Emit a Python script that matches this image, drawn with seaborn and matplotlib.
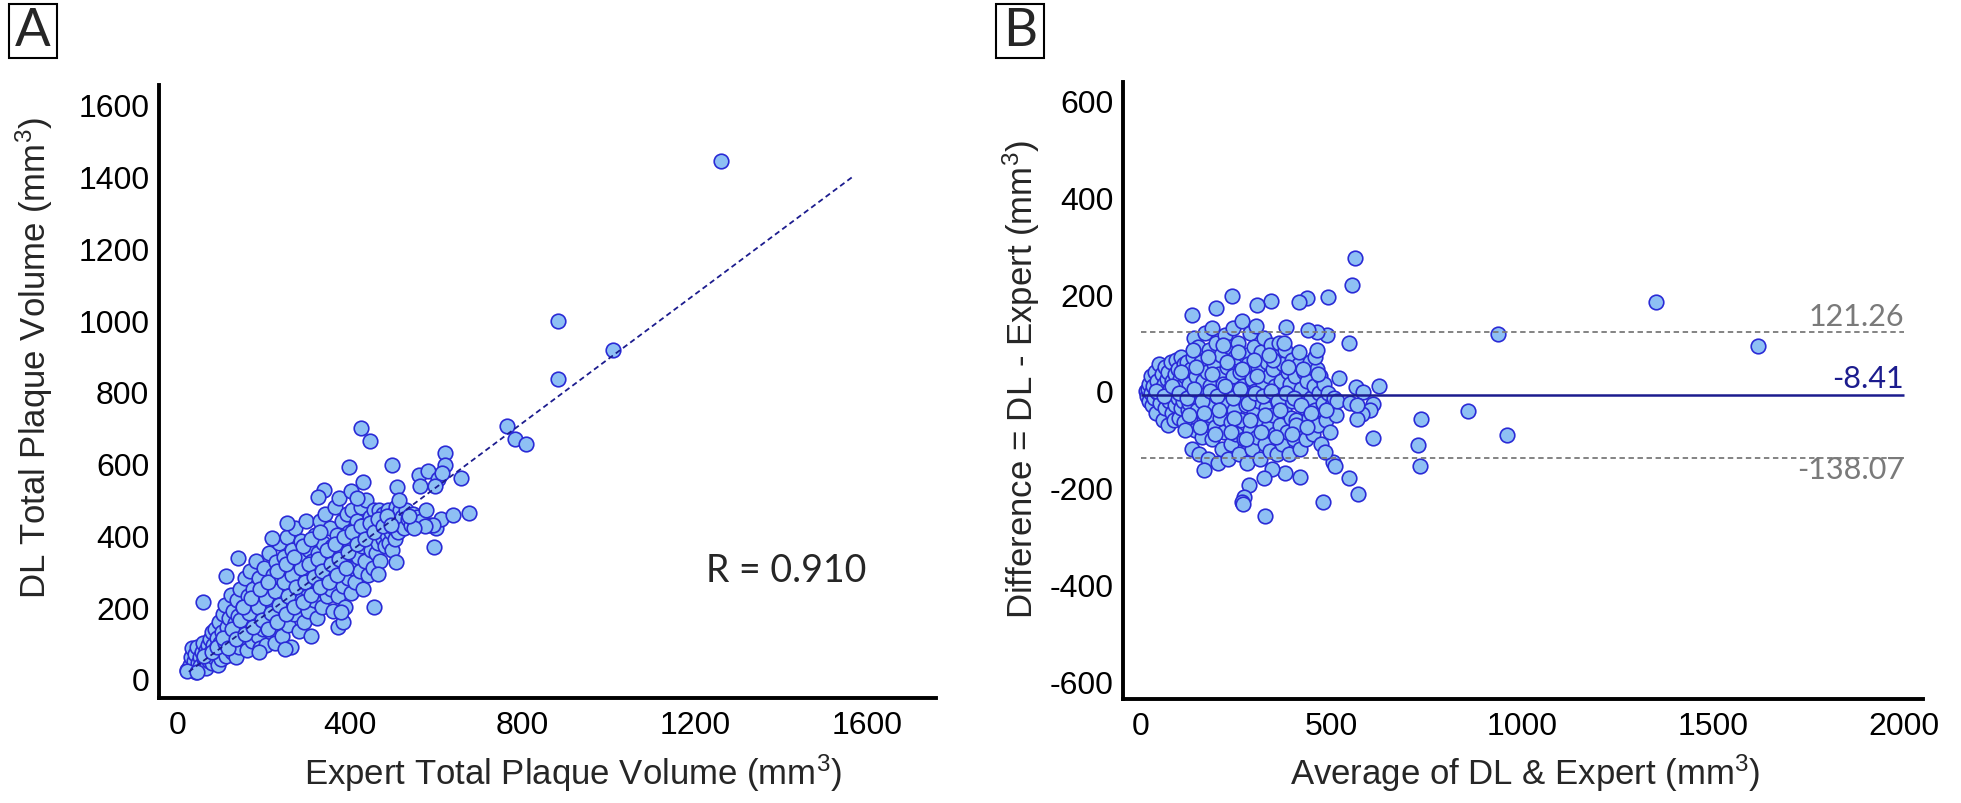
import matplotlib
matplotlib.use("Agg")
import matplotlib.pyplot as plt
import seaborn as sns
from matplotlib.patches import Rectangle

# ---- Panel A: DL vs expert total plaque volume (mm3) ----
expert_vol = [
    22, 28, 30, 33, 35, 38, 40, 42, 45, 47,
    50, 52, 55, 57, 60, 62, 64, 66, 68, 70,
    72, 74, 76, 78, 80, 82, 84, 86, 88, 90,
    92, 94, 96, 98, 100, 102, 104, 106, 108, 110,
    112, 114, 116, 118, 120, 122, 125, 127, 130, 132,
    134, 136, 138, 140, 142, 145, 147, 150, 152, 155,
    157, 160, 162, 165, 167, 170, 172, 175, 178, 180,
    183, 185, 188, 190, 192, 195, 197, 200, 202, 205,
    207, 210, 212, 215, 217, 220, 222, 225, 227, 230,
    232, 235, 237, 240, 242, 245, 247, 250, 252, 255,
    257, 260, 262, 265, 267, 270, 272, 275, 277, 280,
    282, 285, 287, 290, 292, 295, 297, 300, 302, 305,
    307, 310, 312, 315, 317, 320, 322, 325, 327, 330,
    332, 335, 337, 340, 342, 345, 347, 350, 352, 355,
    357, 360, 362, 365, 367, 370, 372, 375, 377, 380,
    382, 385, 387, 390, 392, 395, 397, 400, 402, 405,
    407, 410, 412, 415, 417, 420, 422, 425, 427, 430,
    432, 435, 437, 440, 442, 445, 447, 450, 452, 455,
    457, 460, 462, 465, 467, 470, 472, 475, 477, 480,
    482, 485, 487, 490, 492, 495, 497, 500, 502, 505,
    507, 510, 512, 515, 518, 520, 525, 530, 535, 540,
    545, 550, 555, 565, 575, 585, 600, 610,
    140, 160, 180, 200, 220, 240, 260, 280, 300, 320,
    340, 360, 380, 400, 420, 440, 460, 480, 350, 310,
    60, 80, 100, 120, 90, 110, 130, 150, 170, 190,
    105, 115, 125, 135, 145, 155, 165, 175, 185, 195,
    205, 215, 225, 235, 245, 255, 265, 275, 285, 295,
    305, 315, 325, 335, 345, 355, 365, 375, 385, 395,
    405, 415, 425, 435, 445, 455, 465, 475, 485, 495,
    210, 230, 250, 270, 290, 310, 330, 350, 370, 390,
    150, 170, 190, 210, 230, 250, 270, 290, 310, 330,
    1260, 882, 1009, 882, 763, 783, 807, 425, 446, 620,
    621, 498, 396, 560, 581, 603, 614, 657, 561, 597,
    429, 508, 514, 339, 324, 375, 402, 416, 638, 676,
    595, 591, 574, 548, 537, 506, 455, 252, 218, 140,
    111, 59, 372, 382, 379, 464, 248, 189, 20, 43,
]
dl_vol = [
    25, 40, 60, 85, 30, 50, 70, 20, 90, 45,
    60, 35, 75, 100, 55, 40, 80, 30, 65, 95,
    50, 110, 75, 130, 45, 95, 60, 140, 85, 115,
    40, 70, 160, 100, 55, 130, 180, 80, 110, 205,
    65, 145, 95, 170, 120, 235, 75, 190, 100, 155,
    60, 220, 130, 175, 90, 250, 140, 110, 200, 280,
    160, 80, 230, 135, 300, 190, 105, 250, 160, 330,
    215, 120, 280, 85, 175, 245, 140, 310, 200, 95,
    265, 170, 350, 230, 130, 290, 195, 100, 325, 250,
    160, 380, 215, 280, 120, 340, 190, 260, 395, 150,
    300, 220, 90, 360, 270, 180, 420, 240, 320, 135,
    280, 385, 210, 340, 160, 300, 440, 250, 190, 360,
    275, 120, 330, 220, 400, 290, 170, 350, 250, 440,
    310, 200, 380, 270, 460, 230, 340, 300, 420, 250,
    370, 190, 330, 480, 280, 400, 230, 350, 300, 440,
    260, 380, 200, 330, 460, 280, 410, 350, 240, 470,
    310, 390, 270, 440, 340, 410, 300, 480, 370, 250,
    430, 330, 500, 390, 290, 450, 360, 420, 310, 470,
    400, 350, 440, 380, 470, 330, 420, 390, 460, 370,
    430, 400, 470, 380, 440, 410, 360, 460, 420, 390,
    480, 440, 410, 470, 430, 450, 420, 470, 445, 430,
    460, 425, 450, 440, 470, 430, 420, 445,
    140, 150, 170, 185, 210, 225, 245, 265, 280, 300,
    320, 340, 355, 375, 390, 410, 430, 445, 330, 290,
    65, 75, 95, 110, 90, 100, 120, 145, 160, 180,
    115, 85, 140, 110, 165, 125, 185, 145, 200, 165,
    225, 185, 245, 205, 270, 230, 290, 255, 310, 270,
    320, 285, 335, 300, 360, 320, 375, 335, 395, 355,
    410, 375, 425, 390, 435, 410, 445, 425, 455, 430,
    140, 160, 180, 200, 215, 235, 255, 270, 290, 310,
    200, 225, 250, 270, 300, 320, 340, 370, 390, 410,
    1443, 998, 917, 836, 704, 670, 654, 699, 664, 630,
    597, 596, 590, 568, 580, 557, 575, 559, 537, 537,
    548, 536, 500, 527, 507, 504, 525, 503, 457, 462,
    368, 430, 427, 420, 453, 327, 200, 436, 394, 336,
    286, 215, 144, 158, 186, 292, 84, 74, 23, 19,
]
fit_x = [25, 1565]
fit_y = [20, 1398]
r_text = "R = 0.910"

# ---- Panel B: Bland-Altman ----
ba_mean = [
    12, 15, 18, 20, 22, 25, 27, 30, 32, 35,
    37, 40, 42, 45, 47, 50, 52, 55, 57, 60,
    62, 64, 66, 68, 70, 72, 74, 76, 78, 80,
    82, 84, 86, 88, 90, 92, 94, 96, 98, 100,
    102, 104, 106, 108, 110, 112, 114, 116, 118, 120,
    122, 125, 127, 130, 133, 136, 138, 140, 142, 145,
    147, 150, 152, 155, 157, 160, 162, 165, 167, 170,
    172, 175, 177, 180, 182, 185, 187, 190, 192, 195,
    197, 200, 202, 205, 207, 210, 212, 215, 217, 220,
    222, 225, 227, 230, 232, 235, 237, 240, 242, 245,
    247, 250, 252, 255, 257, 260, 262, 265, 267, 270,
    272, 275, 277, 280, 282, 285, 287, 290, 292, 295,
    297, 300, 302, 305, 307, 310, 312, 315, 317, 320,
    322, 325, 327, 330, 332, 335, 337, 340, 342, 345,
    347, 350, 352, 355, 357, 360, 362, 365, 367, 370,
    372, 375, 377, 380, 382, 385, 387, 390, 392, 395,
    397, 400, 403, 406, 410, 413, 416, 420, 423, 426,
    430, 433, 436, 440, 443, 446, 450, 453, 456, 460,
    463, 466, 470, 473, 476, 480, 485, 490, 495, 500,
    505, 510, 515,
    40, 60, 80, 100, 120, 140, 160, 180, 200, 220,
    240, 260, 280, 300, 320, 340, 360, 380, 400, 420,
    105, 125, 145, 165, 185, 205, 225, 245, 265, 285,
    305, 325, 345, 365, 385, 405, 425, 445, 465, 485,
    115, 135, 155, 175, 195, 215, 235, 255, 275, 295,
    315, 335, 355, 375, 395, 415, 435, 455,
    561, 554, 491, 434, 415, 341, 303, 238, 197, 134,
    546, 487, 461, 439, 379, 625, 520, 858, 733, 727,
    731, 607, 546, 568, 504, 508, 482, 478, 417, 377,
    343, 323, 324, 284, 271, 265, 268, 165, 609, 599,
    578, 564, 582, 565, 547, 565, 461, 1350, 1618, 937,
    959,
]
ba_diff = [
    0, -10, 5, -20, 15, -5, 30, -30, 10, -15,
    40, -45, 20, -5, 55, -25, 5, 35, -60, 15,
    -35, 50, -10, 25, -70, 40, -20, 5, 60, -45,
    20, -5, -60, 35, -30, 65, 0, -15, 45, -55,
    25, -35, 70, 10, -20, 55, -65, 30, -5, 60,
    -40, 15, -25, 45, -120, 70, -10, 110, -80, 30,
    -40, 90, -130, 0, 60, -95, 20, -60, 120, -20,
    40, -140, 85, -50, 10, -100, 130, -25, 55, -75,
    100, -10, -150, 35, -55, 75, -120, 15, -85, 115,
    -30, 50, -140, 5, 90, -65, -110, 30, 130, -40,
    70, -90, -10, 100, -130, 40, -60, 145, 10, -100,
    75, -30, -150, 55, -5, 120, -80, 25, -120, 90,
    -45, 0, 135, -95, 50, -20, -140, 80, -60, 15,
    110, -110, -35, 60, -75, 30, -125, 95, -5, -50,
    45, -90, 10, 70, -130, -25, 100, -70, 20, -110,
    55, -40, 85, -5, -85, 40, -130, 15, -55, 65,
    -20, -100, 30, -60, -10, 55, -120, 5, -80, 40,
    -35, -100, 20, -55, 60, -15, -90, 10, -40, 45,
    -70, -5, 30, -110, -25, 15, -60, -5, -85, -30,
    -15, -50, -20,
    0, -10, 10, -5, -15, 5, -20, 0, -10, 10,
    -15, 5, -25, -5, -10, 0, -20, -5, -15, -30,
    40, -50, 50, -45, 35, -40, 60, -55, 45, -60,
    30, -50, 65, -40, 50, -70, 45, -45, 35, -40,
    -80, 85, -75, 70, -90, 95, -85, 80, -100, 65,
    -85, 75, -95, 100, -90, 80, -75, 70,
    275, 219, 195, 192, 183, 187, 178, 197, 172, 158,
    99, 116, 122, 126, 132, 11, 27, -42, -59, -111,
    -155, -98, -181, -213, -146, -155, -127, -229, -177, -169,
    -161, -180, -258, -194, -219, -229, -234, -163, -27, -40,
    -47, 9, -3, -59, -24, -30, 85, 184, 93, 118,
    -92,
]
bias = -8.41
loa_upper = 121.26
loa_lower = -138.07
ba_x_range = [0, 2000]

face = "#8ec0f4"
edge = "#2a2ad6"
navy = "#1c1c8e"
grey = "#7a7a7a"

sns.set_theme(style="white")
plt.rcParams["font.family"] = ["Liberation Sans", "DejaVu Sans"]
plt.rcParams["axes.unicode_minus"] = False
plt.rcParams["mathtext.fontset"] = "custom"
plt.rcParams["mathtext.rm"] = "Liberation Sans"
plt.rcParams["mathtext.it"] = "Liberation Sans"

fig = plt.figure(figsize=(19.61, 8.04), dpi=100)
ax1 = fig.add_axes([0.0811, 0.1306, 0.3962, 0.7624])
ax2 = fig.add_axes([0.5727, 0.1294, 0.4080, 0.7674])

# panel A
sns.scatterplot(x=expert_vol, y=dl_vol, ax=ax1, s=110, color=face,
                edgecolor=edge, linewidth=1.2, zorder=2)
ax1.plot(fit_x, fit_y, ls=(0, (3, 2)), color=navy, lw=1.3, zorder=3)
ax1.set_xlim(-44, 1760)
ax1.set_ylim(-53, 1655)
ax1.set_xticks([0, 400, 800, 1200, 1600])
ax1.set_xticks(range(0, 1601, 200), minor=True)
ax1.set_yticks(range(0, 1601, 200))
ax1.text(1225, 305, r_text, fontsize=27, family=["Lato", "DejaVu Sans"],
         ha="left", va="center")
ax1.set_xlabel("Expert Total Plaque Volume (mm$^3$)", fontsize=25)
ax1.set_ylabel("DL Total Plaque Volume (mm$^3$)", fontsize=25)
ax1.xaxis.set_label_coords(0.533, -0.121)
ax1.xaxis.label.set_va("center")
ax1.yaxis.set_label_coords(-0.16, 0.556)
ax1.yaxis.label.set_va("center")

# panel B
sns.scatterplot(x=ba_mean, y=ba_diff, ax=ax2, s=110, color=face,
                edgecolor=edge, linewidth=1.2, zorder=2)
ax2.hlines([loa_upper, loa_lower], *ba_x_range, colors=grey,
           linestyles=[(0, (3, 2))], lw=1.3, zorder=3)
ax2.hlines(bias, *ba_x_range, colors=navy, lw=1.8, zorder=3)
lab_font = ["Lato", "DejaVu Sans"]
ax2.annotate(f"{loa_upper:.2f}", (ba_x_range[1], loa_upper), xytext=(0, 2),
             textcoords="offset points", ha="right", va="bottom",
             color=grey, fontsize=22, family=lab_font)
ax2.annotate(f"{bias:.2f}", (ba_x_range[1], bias), xytext=(0, 2),
             textcoords="offset points", ha="right", va="bottom",
             color=navy, fontsize=22, family=lab_font)
ax2.annotate(f"{loa_lower:.2f}", (ba_x_range[1], loa_lower), xytext=(0, 2),
             textcoords="offset points", ha="right", va="top",
             color=grey, fontsize=22, family=lab_font)
ax2.set_xlim(-47, 2050)
ax2.set_ylim(-637, 639)
ax2.set_xticks(range(0, 2001, 500))
ax2.set_xticks(range(0, 2001, 250), minor=True)
ax2.set_yticks(range(-600, 601, 200))
ax2.set_xlabel("Average of DL & Expert (mm$^3$)", fontsize=25)
ax2.set_ylabel("Difference = DL - Expert (mm$^3$)", fontsize=25)
ax2.xaxis.set_label_coords(0.5025, -0.118)
ax2.xaxis.label.set_va("center")
ax2.yaxis.set_label_coords(-0.1275, 0.519)
ax2.yaxis.label.set_va("center")

for ax in (ax1, ax2):
    ax.spines[["top", "right"]].set_visible(False)
    for s in ("left", "bottom"):
        ax.spines[s].set_linewidth(2.8)
        ax.spines[s].set_color("black")
    ax.tick_params(which="both", direction="in", length=12, width=1.3,
                   color="#222222", labelsize=23, labelcolor="black")
    ax.tick_params(axis="x", which="both", pad=9)
    ax.tick_params(axis="y", which="both", pad=7)

# panel letters in boxes
for x0, letter in ((9, "A"), (996, "B")):
    fig.patches.append(Rectangle((x0 / 1961, 745 / 804), 48 / 1961, 54 / 804,
                                 transform=fig.transFigure, fill=False,
                                 ec="black", lw=1.5))
    fig.text((x0 + 24) / 1961, 772 / 804, letter, fontsize=38,
             family=["Lato", "DejaVu Sans"], ha="center", va="center")

fig.savefig("out.png", dpi=100)
